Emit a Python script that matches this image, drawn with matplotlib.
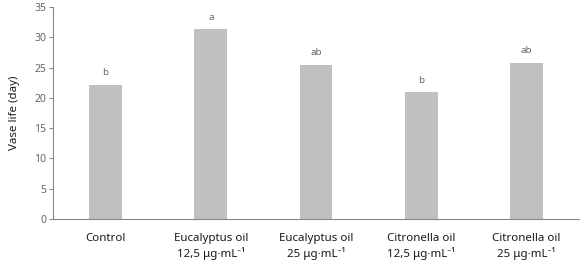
import numpy as np
import matplotlib
matplotlib.use("Agg")
import matplotlib.pyplot as plt

plt.rcParams['font.family'] = ['Noto Sans', 'DejaVu Sans']

categories = ['Control',
              'Eucalyptus oil\n12,5 μg·mL⁻¹',
              'Eucalyptus oil\n25 μg·mL⁻¹',
              'Citronella oil\n12,5 μg·mL⁻¹',
              'Citronella oil\n25 μg·mL⁻¹']
vase_life = [22.2, 31.3, 25.5, 21.0, 25.8]
letters = ['b', 'a', 'ab', 'b', 'ab']

fig = plt.figure(figsize=(5.8, 2.64), dpi=100)
ax = fig.add_axes([53/580, 45/264, 526/580, 212/264])

x = np.arange(len(categories))
ax.bar(x, vase_life, width=0.31, color='#c0c0c0')
for xi, v, l in zip(x, vase_life, letters):
    ax.text(xi, v + 1.2, l, ha='center', va='bottom', fontsize=7, color='#666666')

ax.set_xlim(-0.5, 4.5)
ax.set_ylim(0, 35)
ax.set_yticks(range(0, 36, 5))
ax.set_xticks(x)
ax.set_xticklabels(categories, fontsize=8.3, color='#1a1a1a', linespacing=1.35)
ax.tick_params(axis='x', length=0, pad=10)
ax.tick_params(axis='y', length=3, width=0.8, color='#888888', labelsize=7.5, labelcolor='#666666', pad=2)
ax.set_ylabel('Vase life (day)', fontsize=8.3, color='#1a1a1a', labelpad=10)

for s in ['top', 'right']:
    ax.spines[s].set_visible(False)
for s in ['left', 'bottom']:
    ax.spines[s].set_color('#888888')
    ax.spines[s].set_linewidth(0.8)

fig.savefig('out.png', dpi=100)
